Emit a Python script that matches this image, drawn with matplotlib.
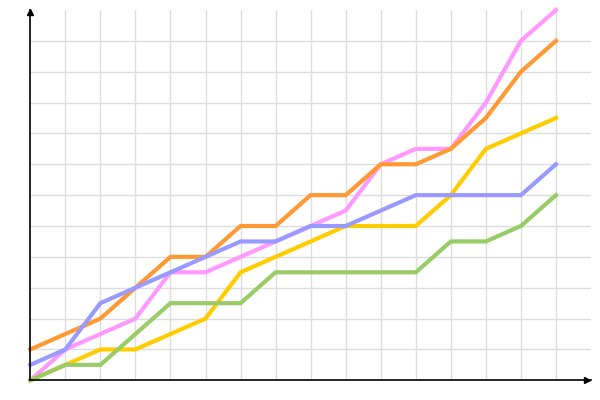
import matplotlib
matplotlib.use("Agg")
import matplotlib.pyplot as plt

x = list(range(16))
pink = [0, 1, 1.5, 2, 3.5, 3.5, 4, 4.5, 5, 5.5, 7, 7.5, 7.5, 9, 11, 12]
orange = [1, 1.5, 2, 3, 4, 4, 5, 5, 6, 6, 7, 7, 7.5, 8.5, 10, 11]
blue = [0.5, 1, 2.5, 3, 3.5, 4, 4.5, 4.5, 5, 5, 5.5, 6, 6, 6, 6, 7]
yellow = [0, 0.5, 1, 1, 1.5, 2, 3.5, 4, 4.5, 5, 5, 5, 6, 7.5, 8, 8.5]
green = [0, 0.5, 0.5, 1.5, 2.5, 2.5, 2.5, 3.5, 3.5, 3.5, 3.5, 3.5, 4.5, 4.5, 5, 6]

fig = plt.figure(figsize=(6, 4), dpi=100)
ax = fig.add_axes([30.3 / 600, 19.7 / 400, 560.7 / 600, 370.3 / 400])
ax.set_xlim(0, 16)
ax.set_ylim(0, 12)

# grid: verticals at data points, horizontals every unit
for xv in x[1:]:
    ax.axvline(xv, color="#dddddd", lw=1, zorder=0)
for yv in range(1, 12):
    ax.axhline(yv, color="#dddddd", lw=1, zorder=0)

for ys, c in [(pink, "#ff99ff"), (yellow, "#ffcc00"), (green, "#99cc66"),
              (orange, "#ff9933"), (blue, "#9999ff")]:
    ax.plot(x, ys, color=c, lw=3, solid_joinstyle="miter", clip_on=False, zorder=2)

for s in ["top", "right"]:
    ax.spines[s].set_visible(False)
for s in ["left", "bottom"]:
    ax.spines[s].set_linewidth(1.2)
ax.set_xticks([]); ax.set_yticks([])

# arrowheads at axis ends
ax.plot(0, 0.995, "^", color="black", ms=4, transform=ax.transAxes, clip_on=False)
ax.plot(0.993, 0, ">", color="black", ms=4, transform=ax.transAxes, clip_on=False)

fig.savefig("out.png", dpi=100)
